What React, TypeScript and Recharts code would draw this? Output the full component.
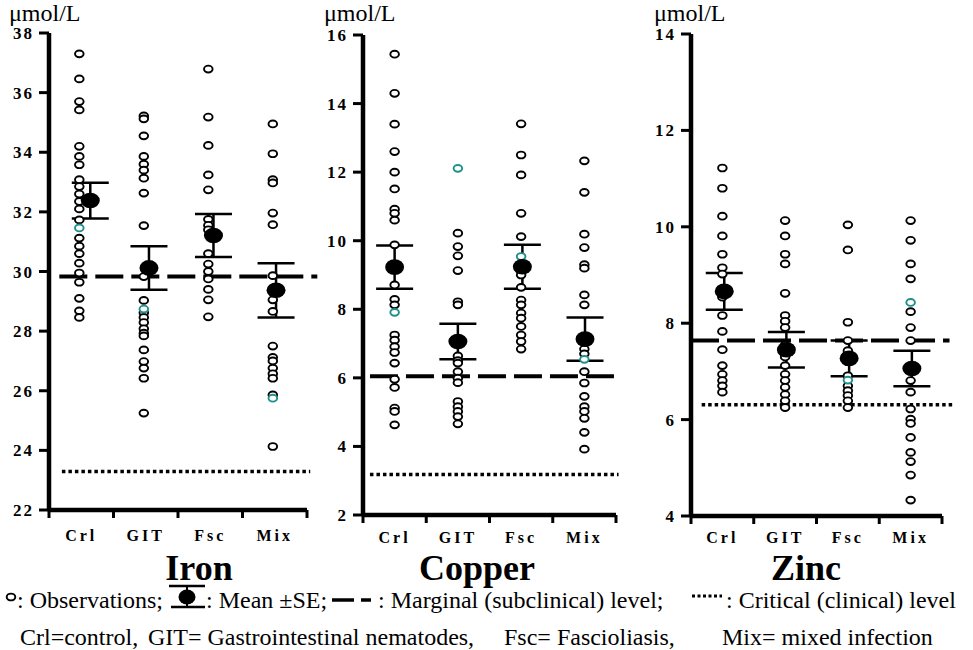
import React from 'react';
import { ScatterChart, Scatter, XAxis, YAxis, ReferenceLine, ErrorBar } from 'recharts';

const CATEGORIES = ['Crl', 'GIT', 'Fsc', 'Mix'];

// ---------- Iron (µmol/L) ----------
const ironCrl = [37.3, 36.46, 35.7, 35.42, 34.2, 33.86, 33.58, 33.08, 32.85, 32.6, 32.35, 32.1, 31.73, 31.12, 30.85, 30.6, 30.28, 29.95, 29.64, 29.1, 28.68, 28.46];
const ironGit = [35.22, 35.12, 34.55, 33.86, 33.6, 33.4, 33.13, 32.63, 31.54, 29.83, 29.03, 28.62, 28.46, 28.29, 28.08, 27.93, 27.84, 27.37, 26.98, 26.76, 26.42, 25.25];
const ironFsc = [36.79, 35.18, 34.23, 33.24, 32.74, 31.75, 31.55, 31.4, 30.6, 30.25, 30.0, 29.75, 29.4, 29.05, 28.48];
const ironMix = [34.95, 33.95, 33.08, 32.97, 31.96, 31.57, 29.86, 29.33, 29.05, 28.66, 27.5, 27.12, 27.0, 26.76, 26.57, 26.42, 25.86, 24.13];
const ironHighlighted = [[31.46], [28.74], [], [25.75]];
const ironMeans = [32.38, 30.12, 31.21, 29.37];
const ironSE = [0.6, 0.73, 0.72, 0.91];
const ironMarginal = 29.83;
const ironCritical = 23.29;
const ironTicks = [22, 24, 26, 28, 30, 32, 34, 36, 38];

// ---------- Copper (µmol/L) ----------
const copperCrl = [15.44, 14.3, 13.4, 12.6, 12.0, 11.51, 10.92, 10.8, 10.6, 9.88, 8.71, 8.29, 8.13, 7.25, 7.1, 6.91, 6.74, 6.43, 5.96, 5.72, 5.12, 5.02, 4.63];
const copperGit = [10.22, 9.83, 9.56, 9.13, 8.22, 8.13, 6.64, 6.5, 6.43, 6.18, 5.99, 5.86, 5.31, 5.16, 5.02, 4.87, 4.66];
const copperFsc = [13.41, 12.5, 11.92, 10.8, 10.12, 9.0, 8.64, 8.27, 8.13, 7.89, 7.74, 7.5, 7.25, 7.06, 6.84];
const copperMix = [12.33, 11.41, 10.19, 9.8, 9.3, 9.2, 8.42, 8.13, 6.84, 6.7, 6.18, 5.85, 5.46, 5.16, 5.02, 4.82, 4.41, 3.92];
const copperHighlighted = [[7.91], [12.11], [9.54], [6.54]];
const copperMeans = [9.23, 7.06, 9.24, 7.13];
const copperSE = [0.63, 0.52, 0.64, 0.63];
const copperMarginal = 6.05;
const copperCritical = 3.18;
const copperTicks = [2, 4, 6, 8, 10, 12, 14, 16];

// ---------- Zinc (µmol/L) ----------
const zincCrl = [11.22, 10.8, 10.22, 9.81, 9.43, 9.15, 9.02, 8.54, 8.16, 7.83, 7.45, 7.12, 6.94, 6.81, 6.7, 6.57];
const zincGit = [10.13, 9.81, 9.43, 9.23, 8.62, 8.16, 8.04, 7.91, 7.55, 7.3, 7.12, 6.94, 6.81, 6.67, 6.52, 6.39, 6.25];
const zincFsc = [10.04, 9.52, 8.02, 7.64, 7.43, 7.2, 6.91, 6.7, 6.6, 6.5, 6.39, 6.25];
const zincMix = [10.13, 9.72, 9.23, 8.92, 8.24, 7.91, 7.64, 6.81, 6.57, 6.22, 6.01, 5.92, 5.63, 5.32, 5.13, 4.85, 4.33];
const zincHighlighted = [[], [], [6.82], [8.43]];
const zincMeans = [8.66, 7.45, 7.27, 7.06];
const zincSE = [0.38, 0.37, 0.37, 0.37];
const zincMarginal = 7.64;
const zincCritical = 6.31;
const zincTicks = [4, 6, 8, 10, 12, 14];

const SERIF = "'Liberation Serif', 'Times New Roman', serif";
const TEAL = '#1f8f8c';

type PanelProps = {
  left: number;
  width: number;
  height: number;
  margin: { top: number; right: number; bottom: number; left: number };
  obs: number[][];
  highlighted: number[][];
  means: number[];
  se: number[];
  marginal: number;
  critical: number;
  ticks: number[];
  pointShift: number;
  meanShift: number[];
  dashRange: [number, number];
  dotRange: [number, number];
  labelDy: number;
};

const ObsShape = (p: any) => (
  <ellipse cx={p.cx} cy={p.cy} rx={4.3} ry={3.4} fill="#fff" stroke="#000" strokeWidth={1.9} />
);
const TealShape = (p: any) => (
  <ellipse cx={p.cx} cy={p.cy} rx={4.3} ry={3.4} fill="#fff" stroke={TEAL} strokeWidth={1.9} />
);
const MeanShape = (p: any) => <ellipse cx={p.cx} cy={p.cy} rx={9.5} ry={7.8} fill="#000" />;

const makeCatTick = (labelDy: number) => (props: any) => {
  const { x, y, payload } = props;
  const v = payload.value;
  if (Number.isInteger(v)) {
    return <line x1={x} x2={x} y1={y} y2={y + 8} stroke="#000" strokeWidth={3} />;
  }
  return (
    <text x={x} y={y + labelDy} textAnchor="middle" fontFamily={SERIF} fontWeight="bold" fontSize={16} letterSpacing={3} fill="#000">
      {CATEGORIES[Math.floor(v)]}
    </text>
  );
};

const YTick = (props: any) => {
  const { x, y, payload } = props;
  return (
    <text x={x} y={y} dy={6} textAnchor="end" fontFamily={SERIF} fontWeight="bold" fontSize={17} letterSpacing={2} fill="#000">
      {payload.value}
    </text>
  );
};

function Panel(props: PanelProps) {
  const obsData = props.obs.flatMap((vals, i) => vals.map((v) => ({ x: i + 0.5 + props.pointShift, y: v })));
  const tealData = props.highlighted.flatMap((vals, i) => vals.map((v) => ({ x: i + 0.5 + props.pointShift, y: v })));
  const meanData = props.means.map((m, i) => ({ x: i + 0.5 + props.meanShift[i], y: m, se: props.se[i] }));
  const yMin = props.ticks[0];
  const yMax = props.ticks[props.ticks.length - 1];
  return (
    <div style={{ position: 'absolute', left: props.left, top: 0 }}>
      <ScatterChart width={props.width} height={props.height} margin={props.margin} style={{ overflow: 'visible' }}>
        <XAxis
          type="number"
          dataKey="x"
          domain={[0, 4]}
          allowDataOverflow
          ticks={[0, 0.5, 1, 1.5, 2, 2.5, 3, 3.5, 4]}
          interval={0}
          tickLine={false}
          tickSize={0}
          tickMargin={0}
          height={30}
          axisLine={{ stroke: '#000', strokeWidth: 4.5 }}
          tick={makeCatTick(props.labelDy)}
        />
        <YAxis
          type="number"
          dataKey="y"
          domain={[yMin, yMax]}
          allowDataOverflow
          ticks={props.ticks}
          interval={0}
          width={40}
          tickSize={10}
          tickMargin={5}
          axisLine={{ stroke: '#000', strokeWidth: 4.5 }}
          tickLine={{ stroke: '#000', strokeWidth: 3 }}
          tick={YTick}
        />
        <Scatter data={obsData} shape={ObsShape} isAnimationActive={false} />
        <Scatter data={tealData} shape={TealShape} isAnimationActive={false} />
        <ReferenceLine
          segment={[{ x: props.dashRange[0], y: props.marginal }, { x: props.dashRange[1], y: props.marginal }]}
          stroke="#000"
          strokeWidth={4}
          strokeDasharray="28 8"
          ifOverflow="visible"
        />
        <ReferenceLine
          segment={[{ x: props.dotRange[0], y: props.critical }, { x: props.dotRange[1], y: props.critical }]}
          stroke="#000"
          strokeWidth={3.5}
          strokeDasharray="3.5 3"
          ifOverflow="visible"
        />
        <Scatter data={meanData} shape={MeanShape} isAnimationActive={false}>
          <ErrorBar dataKey="se" direction="y" width={18.5} stroke="#000" strokeWidth={2.5} />
        </Scatter>
      </ScatterChart>
    </div>
  );
}

export default function App() {
  const H = 560;
  return (
    <div style={{ position: 'absolute', left: 0, top: 0, width: 973, height: 650, background: '#fff', overflow: 'hidden', fontFamily: SERIF }}>
      <Panel
        left={0}
        width={330}
        height={H}
        margin={{ top: 33, right: 23, bottom: H - 510 - 30, left: 9 }}
        obs={[ironCrl, ironGit, ironFsc, ironMix]}
        highlighted={ironHighlighted}
        means={ironMeans}
        se={ironSE}
        marginal={ironMarginal}
        critical={ironCritical}
        ticks={ironTicks}
        pointShift={-0.03}
        meanShift={[0.14, 0.05, 0.05, 0.02]}
        dashRange={[0.16, 4.16]}
        dotRange={[0.2, 4.05]}
        labelDy={31}
      />
      <Panel
        left={320}
        width={320}
        height={H}
        margin={{ top: 35, right: 24, bottom: H - 515 - 30, left: 3 }}
        obs={[copperCrl, copperGit, copperFsc, copperMix]}
        highlighted={copperHighlighted}
        means={copperMeans}
        se={copperSE}
        marginal={copperMarginal}
        critical={copperCritical}
        ticks={copperTicks}
        pointShift={0}
        meanShift={[0, 0, 0.02, 0.01]}
        dashRange={[0.11, 4.06]}
        dotRange={[0.11, 4.04]}
        labelDy={28}
      />
      <Panel
        left={645}
        width={328}
        height={H}
        margin={{ top: 34, right: 31, bottom: H - 516 - 30, left: 6 }}
        obs={[zincCrl, zincGit, zincFsc, zincMix]}
        highlighted={zincHighlighted}
        means={zincMeans}
        se={zincSE}
        marginal={zincMarginal}
        critical={zincCritical}
        ticks={zincTicks}
        pointShift={0}
        meanShift={[0.03, 0.02, 0.02, 0.02]}
        dashRange={[0, 4.12]}
        dotRange={[0.17, 4.2]}
        labelDy={27}
      />
      <svg width={973} height={650} style={{ position: 'absolute', left: 0, top: 0, pointerEvents: 'none' }} fontFamily={SERIF}>
        <g fill="#000">
          <text x={9} y={21} fontSize={24}>μmol/L</text>
          <text x={324} y={21} fontSize={24}>μmol/L</text>
          <text x={654} y={21} fontSize={24}>μmol/L</text>

          <text x={199} y={580} fontSize={36} fontWeight="bold" textAnchor="middle">Iron</text>
          <text x={477} y={580} fontSize={36} fontWeight="bold" textAnchor="middle">Copper</text>
          <text x={806} y={580} fontSize={36} fontWeight="bold" textAnchor="middle">Zinc</text>

          <ellipse cx={11} cy={597} rx={4.3} ry={3.4} fill="#fff" stroke="#000" strokeWidth={1.9} />
          <text x={17} y={608} fontSize={24}>: Observations;</text>
          <line x1={169} x2={205} y1={586} y2={586} stroke="#000" strokeWidth={2.5} />
          <line x1={187} x2={187} y1={586} y2={607} stroke="#000" strokeWidth={2} />
          <line x1={171} x2={205} y1={607} y2={607} stroke="#000" strokeWidth={2.5} />
          <ellipse cx={187} cy={597} rx={8.5} ry={7.5} fill="#000" />
          <text x={206} y={608} fontSize={24}>: Mean ±SE;</text>
          <line x1={332} x2={354} y1={600} y2={600} stroke="#000" strokeWidth={3.5} />
          <line x1={361} x2={371} y1={600} y2={600} stroke="#000" strokeWidth={3.5} />
          <text x={378} y={608} fontSize={24}> : Marginal (subclinical) level;</text>
          <line x1={692} x2={722} y1={596} y2={596} stroke="#000" strokeWidth={3} strokeDasharray="3 2.5" />
          <text x={726} y={608} fontSize={24}> : Critical (clinical) level</text>

          <text x={20} y={645} fontSize={24}>Crl=control,</text>
          <text x={148} y={645} fontSize={24}>GIT= Gastrointestinal nematodes,</text>
          <text x={504} y={645} fontSize={24}>Fsc= Fascioliasis,</text>
          <text x={722} y={645} fontSize={24}>Mix= mixed infection</text>
        </g>
      </svg>
    </div>
  );
}
